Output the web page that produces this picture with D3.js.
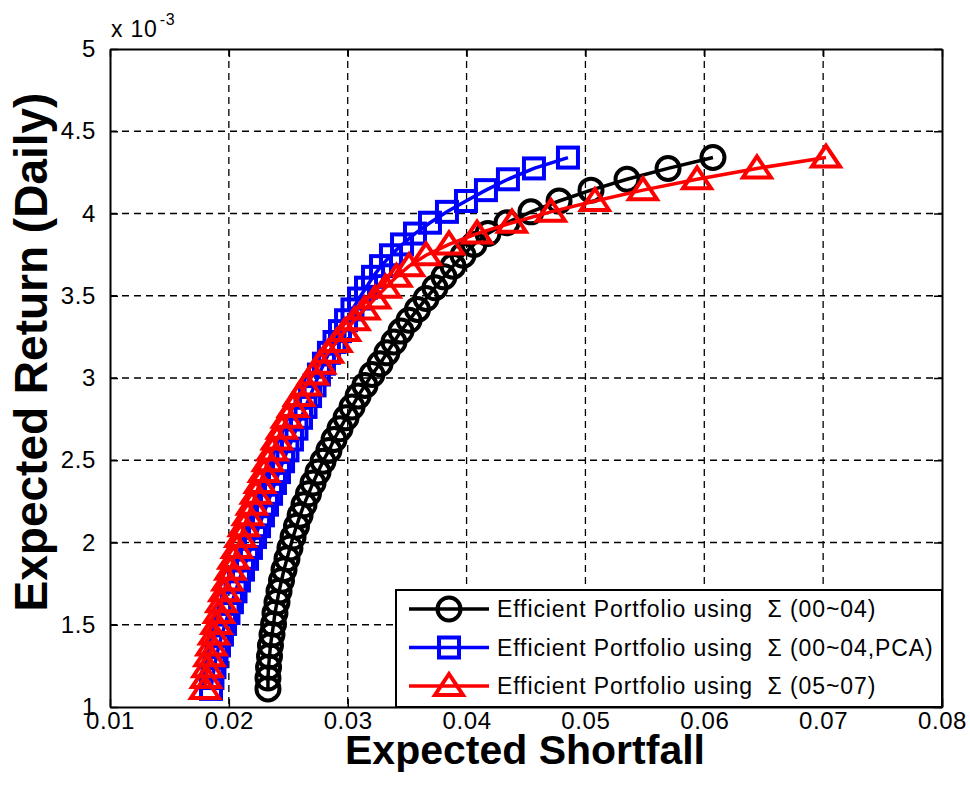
<!DOCTYPE html>
<html>
<head>
<meta charset="utf-8">
<script src="https://cdn.jsdelivr.net/npm/d3@7"></script>
<style>
  body { margin: 0; background: #fff; }
  text { font-family: "Liberation Sans", Arial, sans-serif; }
</style>
</head>
<body>
<svg id="chart" width="970" height="793"></svg>
<script>
// expected daily return, in units of 1e-3 (shared by the three frontiers)
const returns = [1.110, 1.176, 1.242, 1.308, 1.374, 1.440, 1.505, 1.571, 1.637, 1.703,
  1.769, 1.835, 1.901, 1.967, 2.033, 2.099, 2.165, 2.230, 2.296, 2.362,
  2.428, 2.494, 2.560, 2.626, 2.692, 2.758, 2.824, 2.890, 2.955, 3.021,
  3.087, 3.153, 3.219, 3.285, 3.351, 3.417, 3.483, 3.549, 3.615, 3.680,
  3.746, 3.812, 3.878, 3.944, 4.010, 4.076, 4.142, 4.208, 4.274, 4.340];

// expected shortfall per portfolio
const es0004 = [0.02329, 0.02329, 0.02334, 0.02342, 0.02350, 0.02363, 0.02376, 0.02388, 0.02405, 0.02422,
  0.02443, 0.02464, 0.02489, 0.02514, 0.02540, 0.02569, 0.02599, 0.02632, 0.02670, 0.02708,
  0.02750, 0.02792, 0.02842, 0.02885, 0.02935, 0.02986, 0.03036, 0.03087, 0.03145, 0.03204,
  0.03272, 0.03330, 0.03389, 0.03448, 0.03516, 0.03587, 0.03659, 0.03734, 0.03810, 0.03886,
  0.03970, 0.04062, 0.04180, 0.04340, 0.04542, 0.04778, 0.05047, 0.05350, 0.05695, 0.06073];

const es0004pca = [0.01850, 0.01862, 0.01879, 0.01896, 0.01917, 0.01942, 0.01968, 0.01997, 0.02026, 0.02056,
  0.02085, 0.02119, 0.02153, 0.02186, 0.02220, 0.02254, 0.02287, 0.02321, 0.02355, 0.02388,
  0.02422, 0.02456, 0.02493, 0.02531, 0.02569, 0.02607, 0.02645, 0.02683, 0.02721, 0.02758,
  0.02800, 0.02842, 0.02889, 0.02935, 0.02986, 0.03040, 0.03095, 0.03154, 0.03213, 0.03280,
  0.03364, 0.03457, 0.03566, 0.03692, 0.03835, 0.03995, 0.04163, 0.04348, 0.04567, 0.04853];

const es0507 = [0.01799, 0.01808, 0.01820, 0.01837, 0.01854, 0.01875, 0.01896, 0.01917, 0.01938, 0.01963,
  0.01989, 0.02014, 0.02039, 0.02069, 0.02098, 0.02127, 0.02161, 0.02195, 0.02228, 0.02262,
  0.02296, 0.02329, 0.02367, 0.02405, 0.02447, 0.02489, 0.02540, 0.02590, 0.02649, 0.02708,
  0.02767, 0.02834, 0.02906, 0.02977, 0.03057, 0.03141, 0.03230, 0.03318, 0.03410, 0.03516,
  0.03659, 0.03852, 0.04088, 0.04382, 0.04710, 0.05080, 0.05484, 0.05939, 0.06443, 0.07024];

const xTicks = [0.01, 0.02, 0.03, 0.04, 0.05, 0.06, 0.07, 0.08];
const yTicks = [1, 1.5, 2, 2.5, 3, 3.5, 4, 4.5, 5];
const yTickLabels = ["1", "1.5", "2", "2.5", "3", "3.5", "4", "4.5", "5"];

const seriesNames = [
  "Efficient Portfolio using  \u03A3 (00~04)",
  "Efficient Portfolio using  \u03A3 (00~04,PCA)",
  "Efficient Portfolio using  \u03A3 (05~07)"
];

const svg = d3.select("#chart");

const plotL = 110, plotR = 942, plotT = 49, plotB = 707;

const x = d3.scaleLinear().domain([0.01, 0.08]).range([plotL, plotR]);
const y = d3.scaleLinear().domain([1, 5]).range([plotB, plotT]);

const series = [
  { name: seriesNames[0], es: es0004, color: "#000000", marker: "circle" },
  { name: seriesNames[1], es: es0004pca, color: "#0000ff", marker: "square" },
  { name: seriesNames[2], es: es0507, color: "#ff0000", marker: "triangle" }
];

// grid
const grid = svg.append("g");
grid.selectAll("line.gx")
  .data(xTicks.slice(1, -1))
  .join("line")
  .attr("x1", d => x(d)).attr("x2", d => x(d))
  .attr("y1", plotT).attr("y2", plotB)
  .attr("stroke", "#000").attr("stroke-width", 1.3)
  .attr("stroke-dasharray", "7,5");
grid.selectAll("line.gy")
  .data(yTicks.slice(1, -1))
  .join("line")
  .attr("x1", plotL).attr("x2", plotR)
  .attr("y1", d => y(d)).attr("y2", d => y(d))
  .attr("stroke", "#000").attr("stroke-width", 1.3)
  .attr("stroke-dasharray", "7,5");

const drawMarker = (sel, kind, color) => {
  if (kind === "circle") {
    sel.append("circle").attr("r", 11.5);
  } else if (kind === "square") {
    sel.append("rect").attr("x", -10).attr("y", -10).attr("width", 20).attr("height", 20);
  } else {
    sel.append("path").attr("d", "M0,-12L14,9L-14,9Z");
  }
  sel.selectAll("*")
    .attr("fill", "none")
    .attr("stroke", color)
    .attr("stroke-width", 4)
    .attr("stroke-linejoin", "miter");
};

const line = d3.line()
  .x(d => x(d[0]))
  .y(d => y(d[1]));

series.forEach(s => {
  const pts = s.es.map((v, i) => [v, returns[i]]);
  const g = svg.append("g");
  g.append("path")
    .datum(pts)
    .attr("d", line)
    .attr("fill", "none")
    .attr("stroke", s.color)
    .attr("stroke-width", 3.5);
  g.selectAll("g.m")
    .data(pts)
    .join("g")
    .attr("transform", d => `translate(${x(d[0])},${y(d[1])})`)
    .each(function () { drawMarker(d3.select(this), s.marker, s.color); });
});

// axes (box on, ticks inward)
const tickFont = g => g.selectAll("text")
  .attr("font-size", 24)
  .attr("letter-spacing", 0.6)
  .attr("fill", "#000");

const xAxis = svg.append("g")
  .attr("transform", `translate(0,${plotB})`)
  .call(d3.axisBottom(x).tickValues(xTicks).tickFormat(d3.format(".2f"))
    .tickSizeInner(-8).tickSizeOuter(0).tickPadding(5));
xAxis.call(tickFont);

const yAxis = svg.append("g")
  .attr("transform", `translate(${plotL},0)`)
  .call(d3.axisLeft(y).tickValues(yTicks).tickFormat((d, i) => yTickLabels[i])
    .tickSizeInner(-8).tickSizeOuter(0).tickPadding(14));
yAxis.call(tickFont);

svg.append("g")
  .attr("transform", `translate(0,${plotT})`)
  .call(d3.axisTop(x).tickValues(xTicks).tickFormat("").tickSizeInner(-8).tickSizeOuter(0));
svg.append("g")
  .attr("transform", `translate(${plotR},0)`)
  .call(d3.axisRight(y).tickValues(yTicks).tickFormat("").tickSizeInner(-8).tickSizeOuter(0));

svg.selectAll(".domain").attr("stroke", "#000").attr("stroke-width", 2);
svg.selectAll(".tick line").attr("stroke", "#000").attr("stroke-width", 1.5);

// exponent label
const expo = svg.append("text")
  .attr("x", plotL + 1).attr("y", 37)
  .attr("font-size", 23)
  .attr("letter-spacing", 0.8);
expo.append("tspan").text("x 10");
expo.append("tspan").attr("font-size", 16).attr("dy", -12).attr("dx", 2).text("-3");

// axis titles
svg.append("text")
  .attr("x", (plotL + plotR) / 2 - 1).attr("y", 764)
  .attr("text-anchor", "middle")
  .attr("font-size", 41).attr("font-weight", "bold")
  .text("Expected Shortfall");

svg.append("text")
  .attr("transform", "translate(47,352) rotate(-90)")
  .attr("text-anchor", "middle")
  .attr("font-size", 46).attr("font-weight", "bold")
  .text("Expected Return (Daily)");

// legend
const legend = svg.append("g");
legend.append("rect")
  .attr("x", 396).attr("y", 590)
  .attr("width", plotR - 396).attr("height", plotB - 590)
  .attr("fill", "#fff").attr("stroke", "#000").attr("stroke-width", 2);

series.forEach((s, i) => {
  const cy = 609 + i * 38.5;
  const row = legend.append("g");
  row.append("line")
    .attr("x1", 409).attr("x2", 489)
    .attr("y1", cy).attr("y2", cy)
    .attr("stroke", s.color).attr("stroke-width", 3.5);
  const m = row.append("g").attr("transform", `translate(449,${cy})`);
  drawMarker(m, s.marker, s.color);
  row.append("text")
    .attr("x", 497).attr("y", cy + 8)
    .attr("font-size", 23)
    .attr("letter-spacing", 0.9)
    .style("white-space", "pre")
    .text(s.name);
});
</script>
</body>
</html>
